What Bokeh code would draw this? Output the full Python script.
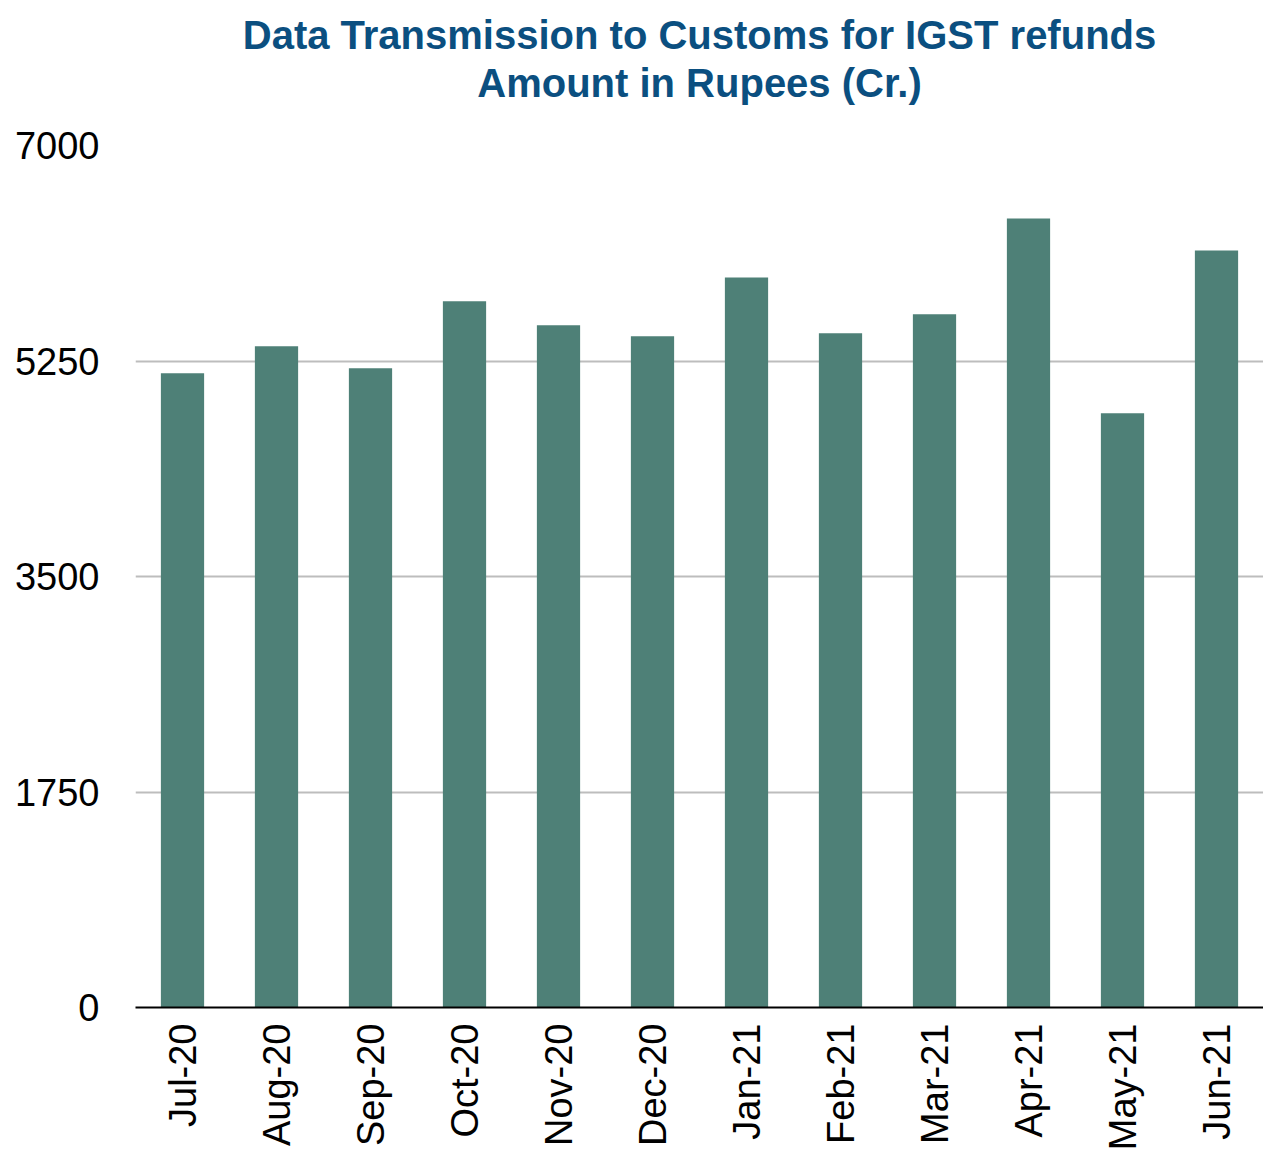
from bokeh.plotting import figure
from bokeh.models import FixedTicker, Title, ColumnDataSource
from bokeh.embed import file_html
from bokeh.resources import INLINE
import math

months = ["Jul-20", "Aug-20", "Sep-20", "Oct-20", "Nov-20", "Dec-20",
          "Jan-21", "Feb-21", "Mar-21", "Apr-21", "May-21", "Jun-21"]
amounts = [5151, 5370, 5191, 5735, 5540, 5451, 5929, 5475, 5629, 6408, 4826, 6148]
y_ticks = [0, 1750, 3500, 5250, 7000]
title_line1 = "Data Transmission to Customs for IGST refunds"
title_line2 = "Amount in Rupees (Cr.)"

src = ColumnDataSource(dict(month=months, amount=amounts))

p = figure(x_range=months, y_range=(0, 7000), width=1263, height=1153,
           output_backend="svg", toolbar_location=None, title=None,
           min_border_left=135, min_border_right=0, min_border_top=145,
           min_border_bottom=0)

p.add_layout(Title(text=title_line2, align="center", text_font="Liberation Sans",
                   text_font_size="40px", text_font_style="bold",
                   text_color="#0B4F80", standoff=82, offset=8), "above")
p.add_layout(Title(text=title_line1, align="center", text_font="Liberation Sans",
                   text_font_size="40px", text_font_style="bold",
                   text_color="#0B4F80", standoff=-78, offset=8), "above")

p.vbar(x="month", top="amount", width=0.46, source=src,
       fill_color="#4E8077", line_color=None)

p.x_range.range_padding = 0
p.xgrid.visible = False
p.ygrid.grid_line_color = "#BDBDBD"
p.ygrid.grid_line_width = 2
p.yaxis.ticker = FixedTicker(ticks=y_ticks)
p.yaxis.axis_line_color = None
p.yaxis.major_tick_line_color = None
p.yaxis.minor_tick_line_color = None
p.yaxis.major_label_text_font = "Liberation Sans"
p.yaxis.major_label_text_font_size = "38px"
p.yaxis.major_label_text_color = "#000000"
p.yaxis.major_label_standoff = 30

p.xaxis.axis_line_color = "#000000"
p.xaxis.axis_line_width = 2
p.xaxis.major_tick_line_color = None
p.xaxis.minor_tick_line_color = None
p.xaxis.major_label_orientation = math.pi / 2
p.xaxis.major_label_text_font = "Liberation Sans"
p.xaxis.major_label_text_font_size = "38px"
p.xaxis.major_label_text_color = "#000000"
p.xaxis.major_label_standoff = 10

p.outline_line_color = None
p.background_fill_color = "white"
p.border_fill_color = "white"

open("out.html", "w").write(file_html(p, INLINE))
